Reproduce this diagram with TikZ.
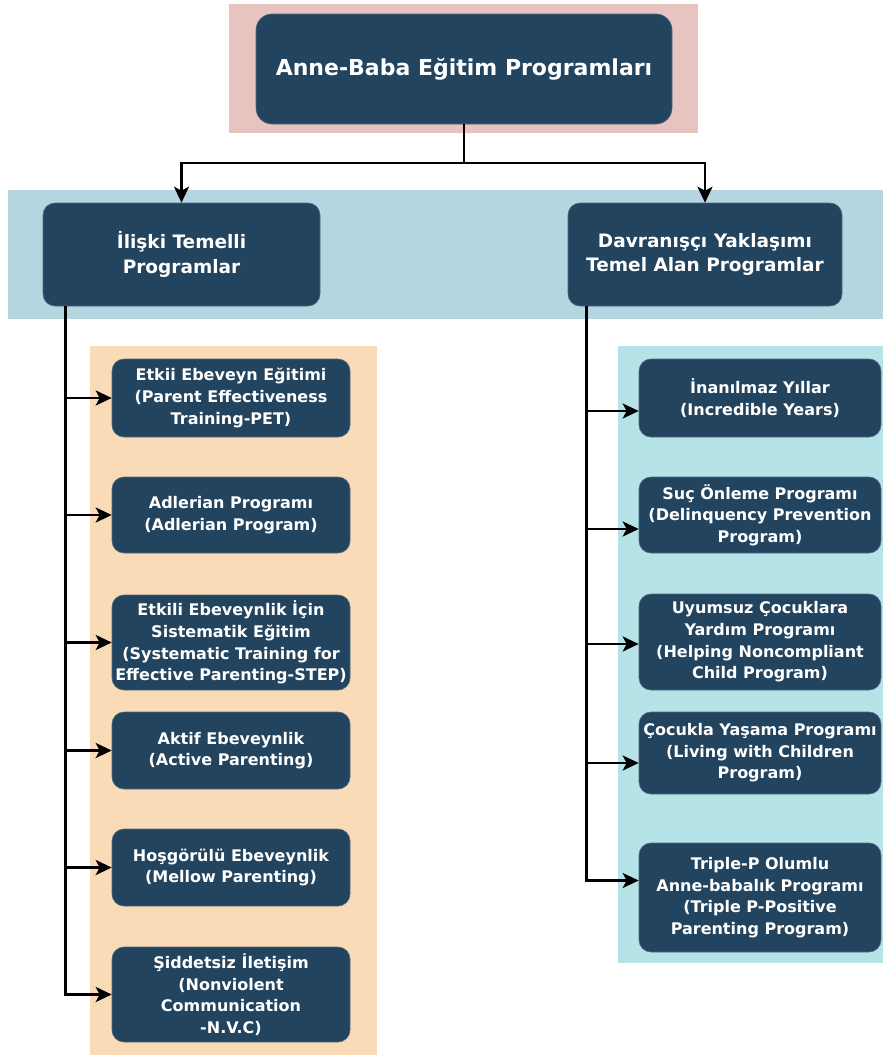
\documentclass[tikz,border=0pt]{standalone}
\usepackage{fontspec}
\setmainfont{DejaVu Sans}
\usetikzlibrary{arrows.meta}
\definecolor{boxc}{HTML}{23445E}
\definecolor{pinkbg}{HTML}{E8C4C0}
\definecolor{bluebg}{HTML}{B5D5E1}
\definecolor{orangebg}{HTML}{F9DBB7}
\definecolor{cyanbg}{HTML}{B5E3E8}
\tikzset{
  bx/.style={fill=boxc, draw=boxc!80!white, line width=0.6pt, rounded corners=12pt, text=white, align=center, inner sep=0pt},
  topbx/.style={bx, rounded corners=16pt, font=\bfseries\fontsize{22}{26}\selectfont},
  midbx/.style={bx, font=\bfseries\fontsize{18.5}{24.5}\selectfont},
  leafbx/.style={bx, font=\bfseries\fontsize{16}{21.6}\selectfont},
  conn/.style={line width=2.8pt, -{Stealth[length=16pt,width=15pt,inset=4pt]}},
  plain/.style={line width=2.8pt}
}
\begin{document}
\begin{tikzpicture}[x=1pt,y=-1pt]
\useasboundingbox (0,0) rectangle (883,1055);
% backgrounds
\fill[pinkbg] (229,4) rectangle (698,133);
\fill[bluebg] (8,190) rectangle (883,319);
\fill[orangebg] (90,346) rectangle (377,1055);
\fill[cyanbg] (618,346) rectangle (883,963);
% top
\node[topbx, minimum width=416pt, minimum height=110pt] (top) at (464,69) {Anne-Baba Eğitim Programları};
% level 2
\node[midbx, minimum width=277pt, minimum height=103pt] (l2L) at (181.5,254.5) {İlişki Temelli\\Programlar};
\node[midbx, minimum width=274pt, minimum height=103pt] (l2R) at (705,254.5) {Davranışçı Yaklaşımı\\Temel Alan Programlar};
% left leaves
\node[leafbx, minimum width=238pt, minimum height=78pt] (a1) at (231,398) {Etkii Ebeveyn Eğitimi\\(Parent Effectiveness\\Training-PET)};
\node[leafbx, minimum width=238pt, minimum height=76pt] (a2) at (231,515) {Adlerian Programı\\(Adlerian Program)};
\node[leafbx, minimum width=238pt, minimum height=95pt] (a3) at (231,642.5) {Etkili Ebeveynlik İçin\\Sistematik Eğitim\\(Systematic Training for\\Effective Parenting-STEP)};
\node[leafbx, minimum width=238pt, minimum height=77pt] (a4) at (231,750.5) {Aktif Ebeveynlik\\(Active Parenting)};
\node[leafbx, minimum width=238pt, minimum height=77pt] (a5) at (231,867.5) {Hoşgörülü Ebeveynlik\\(Mellow Parenting)};
\node[leafbx, minimum width=238pt, minimum height=95pt] (a6) at (231,994.5) {Şiddetsiz İletişim\\(Nonviolent\\Communication\\-N.V.C)};
% right leaves
\node[leafbx, minimum width=242pt, minimum height=78pt] (b1) at (760,398) {İnanılmaz Yıllar\\(Incredible Years)};
\node[leafbx, minimum width=242pt, minimum height=76pt] (b2) at (760,515) {Suç Önleme Programı\\(Delinquency Prevention\\Program)};
\node[leafbx, minimum width=242pt, minimum height=96pt] (b3) at (760,642) {Uyumsuz Çocuklara\\Yardım Programı\\(Helping Noncompliant\\Child Program)};
\node[leafbx, minimum width=242pt, minimum height=82pt] (b4) at (760,753) {Çocukla Yaşama Programı\\(Living with Children\\Program)};
\node[leafbx, minimum width=242pt, minimum height=109pt] (b5) at (760,897.5) {Triple-P Olumlu\\Anne-babalık Programı\\(Triple P-Positive\\Parenting Program)};
% connectors top
\coordinate (j) at (464,163);
\draw[plain] (top.south) -- (j);
\draw[conn] (j) -| (l2L.north);
\draw[conn] (j) -| (l2R.north);
% left column
\foreach \n in {a1,a2,a3,a4,a5,a6}
  \draw[conn] ([xshift=23pt]l2L.south west) |- (\n.west);
% right column
\draw[conn] ([xshift=19pt]l2R.south west) |- ([yshift=-13pt]b1.west);
\draw[conn] ([xshift=19pt]l2R.south west) |- ([yshift=-14pt]b2.west);
\draw[conn] ([xshift=19pt]l2R.south west) |- ([yshift=-2pt]b3.west);
\draw[conn] ([xshift=19pt]l2R.south west) |- ([yshift=-10pt]b4.west);
\draw[conn] ([xshift=19pt]l2R.south west) |- ([yshift=17pt]b5.west);
\end{tikzpicture}
\end{document}
